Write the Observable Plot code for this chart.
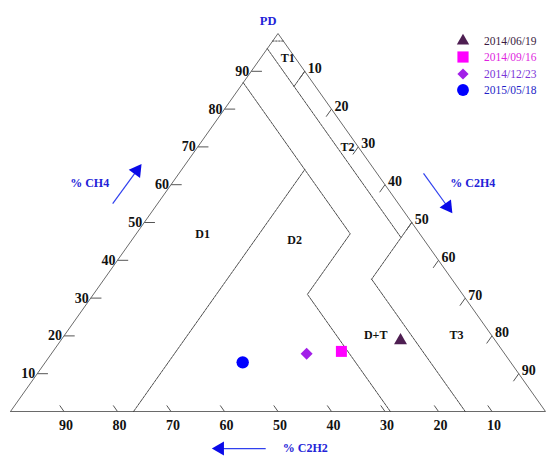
<!DOCTYPE html>
<html><head><meta charset="utf-8">
<script src="https://cdn.jsdelivr.net/npm/d3@7"></script>
<script src="https://cdn.jsdelivr.net/npm/@observablehq/plot@0.6"></script>
<style>
body{margin:0;background:#fff;}
#wrap{position:relative;width:547px;height:456px;}
#legend{position:absolute;left:452px;top:33px;font-family:"Liberation Serif",serif;font-size:11.5px;}
#legend .row{display:flex;align-items:center;height:16.3px;}
#legend svg{width:22px;height:16px;margin-right:10px;}
</style></head><body><div id="wrap"></div>
<script>
// ---- data (ternary %, CH4 / C2H4 / C2H2) ----
const dates = ["2014/06/19", "2014/09/16", "2014/12/23", "2015/05/18"];
const ch4  = [18.8, 15.9, 15.3, 13.0];
const c2h4 = [63.5, 53.9, 47.7, 36.9];
const c2h2 = [17.7, 30.2, 37.0, 50.1];
const symbols = ["triangle", "square", "diamond2", "circle"];
const colors = ["#4e1f52", "#ff00ff", "#a21fe8", "#0000ff"];
const legendTextColors = ["#3a1a40", "#e01fe0", "#7a35d8", "#1f1fc8"];
const tickValues = [10, 20, 30, 40, 50, 60, 70, 80, 90];
// zone boundaries as ternary vertices [CH4, C2H4]
const outline = [[0, 0], [0, 100], [100, 0], [0, 0]];
const boundaries = [
  [[96, 0], [46, 50]],            // C2H2 = 4
  [[50, 50], [35, 50]],           // C2H4 = 50
  [[35, 50], [0, 85]],            // C2H2 = 15
  [[90, 10], [86, 10]],           // T1 / T2
  [[87, 0], [47, 40], [31, 40], [0, 71]], // D2 limits
  [[0, 23], [64, 23]]             // D1 / D2
];
const pdLine = [[98, 0], [98, 2]];
const zoneNames = ["T1", "T2", "D1", "D2", "D+T", "T3"];
const zoneAt = [[93.4, 5.1], [69.8, 28.1], [46.8, 12.5], [45.2, 30.5], [20.1, 58.2], [20.1, 73.3]];
const axisNames = ["% CH4", "% C2H4", "% C2H2"];

// ---- layout ----
const W = 547, H = 456, ML = 10, MR = 2, MT = 33, MB = 45;
const kx = (W - ML - MR) / 100, ky = (H - MT - MB) / 100;
const tx = (a, b) => b + a / 2;   // ternary -> plot x
const ty = (a) => a;              // ternary -> plot y
const axisLayout = [
  {label: [14.8, 60.3], from: [19.1, 55.0], to: [24.1, 64.7]},
  {label: [86.4, 60.3], from: [77.2, 63.0], to: [82.2, 53.2]},
  {label: [55.1, -9.8], from: [47.7, -9.8], to: [38.3, -9.8]}
];
const font = "Liberation Serif";

const pts = dates.map((d, i) => ({date: d, x: tx(ch4[i], c2h4[i]), y: ty(ch4[i]), symbol: symbols[i], color: colors[i]}));
const toXY = (poly, k) => poly.map(([a, b]) => ({x: tx(a, b), y: ty(a), k}));
const boundaryPts = boundaries.flatMap((p, k) => toXY(p, k));

// ticks
const leftTicks = tickValues.map(v => ({x1: tx(v, 0), y1: ty(v), x2: tx(v, 2), y2: ty(v), v}));
const rightTicks = tickValues.map(v => ({x1: tx(100 - v, v), y1: ty(100 - v), x2: tx(98 - v, v), y2: ty(98 - v), v}));
const bottomTicks = tickValues.map(v => ({x1: tx(0, 100 - v), y1: ty(0), x2: tx(1.6, 100 - v - 1.6), y2: ty(1.6), v}));

// arrows
const arrows = axisLayout.map((L, i) => {
  const fx = L.from[0], fy = L.from[1], tx_ = L.to[0], ty_ = L.to[1];
  const dxp = (tx_ - fx) * kx, dyp = -(ty_ - fy) * ky;
  const len = Math.hypot(dxp, dyp);
  const ux = dxp / len, uy = dyp / len;
  const back = 4.5;
  const hx = tx_ - ux * back / kx, hy = ty_ + uy * back / ky;
  const rot = Math.atan2(ux, -uy) * 180 / Math.PI;
  return {name: axisNames[i], lx: L.label[0], ly: L.label[1], fx, fy, hx, hy, rot};
});

const marks = [
  Plot.line(toXY(outline, 0), {x: "x", y: "y", stroke: "#6a6a6a", strokeWidth: 1}),
  Plot.line(boundaryPts, {x: "x", y: "y", z: "k", stroke: "#3a3a3a", strokeWidth: 0.9, strokeDasharray: "3,1"}),
  Plot.line(toXY(pdLine, 0), {x: "x", y: "y", stroke: "#333", strokeWidth: 0.9, strokeDasharray: "1.5,1.5"}),
  Plot.link(leftTicks, {x1: "x1", y1: "y1", x2: "x2", y2: "y2", stroke: "#555"}),
  Plot.link(rightTicks, {x1: "x1", y1: "y1", x2: "x2", y2: "y2", stroke: "#555"}),
  Plot.link(bottomTicks, {x1: "x1", y1: "y1", x2: "x2", y2: "y2", stroke: "#555"}),
  Plot.text(leftTicks, {x: "x1", y: "y1", text: d => String(d.v), textAnchor: "end", dx: -2, fontFamily: font, fontWeight: "bold", fontSize: 14, fill: "#111"}),
  Plot.text(rightTicks, {x: "x1", y: "y1", text: d => String(d.v), textAnchor: "start", dx: 3, dy: -3, fontFamily: font, fontWeight: "bold", fontSize: 14, fill: "#111"}),
  Plot.text(bottomTicks, {x: "x1", y: "y1", text: d => String(d.v), dx: 2, dy: 14, fontFamily: font, fontWeight: "bold", fontSize: 14, fill: "#111"}),
  Plot.text(zoneNames.map((n, i) => ({n, x: tx(zoneAt[i][0], zoneAt[i][1]), y: ty(zoneAt[i][0])})),
    {x: "x", y: "y", text: "n", fontFamily: font, fontWeight: "bold", fontSize: 12, fill: "#111"}),
  Plot.text(["PD"], {x: tx(103.3, -3.5), y: ty(103.3), text: d => d, fontFamily: font, fontWeight: "bold", fontSize: 12.5, fill: "#2323d8"}),
  Plot.text(arrows, {x: "lx", y: "ly", text: "name", fontFamily: font, fontWeight: "bold", fontSize: 12, fill: "#2323d8"}),
  Plot.link(arrows, {x1: "fx", y1: "fy", x2: "hx", y2: "hy", stroke: "#3040ee", strokeWidth: 1.2}),
  ...arrows.map(a => Plot.dot([a], {x: "hx", y: "hy", symbol: "triangle", r: 5.2, fill: "#0a0ae8", stroke: "none", rotate: a.rot})),
  ...pts.map(p => Plot.dot([p], {x: "x", y: "y", symbol: p.symbol, fill: p.color, stroke: "none",
    r: p.symbol === "triangle" ? 4.8 : p.symbol === "square" ? 6.2 : p.symbol === "diamond2" ? 5.4 : 6.2}))
];

const chart = Plot.plot({
  width: W, height: H, marginLeft: ML, marginRight: MR, marginTop: MT, marginBottom: MB,
  x: {domain: [0, 100], axis: null},
  y: {domain: [0, 100], axis: null},
  style: {background: "#fff", overflow: "visible"},
  marks
});
const wrap = document.getElementById("wrap");
wrap.appendChild(chart);

// legend
const legend = document.createElement("div");
legend.id = "legend";
const symMap = {triangle: d3.symbolTriangle, square: d3.symbolSquare, diamond2: d3.symbolDiamond2, circle: d3.symbolCircle};
const symSize = {triangle: 66, square: 125, diamond2: 80, circle: 110};
dates.forEach((d, i) => {
  const row = document.createElement("div");
  row.className = "row";
  const path = d3.symbol(symMap[symbols[i]], symSize[symbols[i]])();
  row.innerHTML = `<svg viewBox="-11 -8 22 16"><path d="${path}" fill="${colors[i]}"></path></svg><span style="color:${legendTextColors[i]}">${d}</span>`;
  legend.appendChild(row);
});
wrap.appendChild(legend);
</script></body></html>
